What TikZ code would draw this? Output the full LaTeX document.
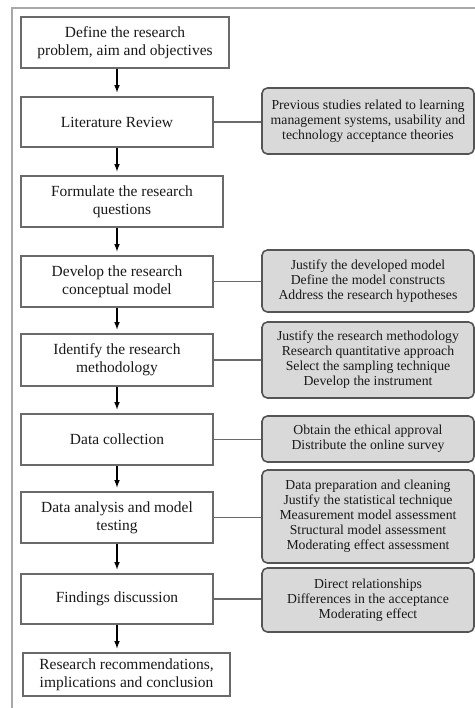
\documentclass[tikz,border=0pt]{standalone}
\usepackage{fontspec}
\setmainfont{Liberation Serif}
\definecolor{boxline}{HTML}{6A6A6A}
\definecolor{notefill}{HTML}{D9D9D9}
\definecolor{frameline}{HTML}{A8A8A8}
\begin{document}
\begin{tikzpicture}[x=0.75pt,y=-0.75pt]
        \tikzstyle{block} = [rectangle, text=black!90, align=center, draw=boxline, line width=.9pt, fill=white, font=\fontsize{11.6}{13.6}\selectfont, minimum width=144pt, minimum height=38.25pt, inner sep=1pt]
        \tikzstyle{note} = [rectangle, rounded corners=4pt, text=black!90, align=center, draw=boxline!80!black, line width=1.2pt, fill=notefill, font=\fontsize{10.3}{11.3}\selectfont, minimum width=159pt, inner sep=1pt]
        \tikzstyle{line} = [-latex,draw=black,line width=.9pt,shorten >=3pt]
        \tikzstyle{link} = [draw=boxline,line width=.9pt]
        \useasboundingbox (0,0) rectangle (475,708);
        % frame
        \draw[frameline,line width=.9pt] (12,708) -- (12,8) -- (475,8);
        % main steps
        \node[block, minimum width=156pt] (define) at (125,42.5) {Define the research\\problem, aim and objectives};
        \node[block, minimum height=37.5pt] (review) at (117,122) {Literature Review};
        \node[block, minimum width=151.5pt] (questions) at (122,201.5) {Formulate the research\\questions};
        \node[block] (model) at (117,281.5) {Develop the research\\conceptual model};
        \node[block, minimum height=39pt] (method) at (117,360) {Identify the research\\methodology};
        \node[block] (collect) at (117,439.5) {Data collection};
        \node[block] (analysis) at (117,517.5) {Data analysis and model\\testing};
        \node[block, minimum height=37.5pt] (findings) at (117,599) {Findings discussion};
        \node[block, minimum width=155.25pt, minimum height=32.25pt] (conclude) at (126.5,674.5) {Research recommendations,\\implications and conclusion};
        % details
        \node[note, minimum height=49.5pt] (reviewnote) at (368,121) {Previous studies related to learning\\management systems, usability and\\technology acceptance theories};
        \node[note, minimum height=46.5pt] (modelnote) at (368,281) {Justify the developed model\\Define the model constructs\\Address the research hypotheses};
        \node[note, minimum height=57pt] (methodnote) at (368,360) {Justify the research methodology\\Research quantitative approach\\Select the sampling technique\\Develop the instrument};
        \node[note, minimum height=34.5pt] (collectnote) at (368,439) {Obtain the ethical approval\\Distribute the online survey};
        \node[note, minimum height=69.75pt] (analysisnote) at (368,516.5) {Data preparation and cleaning\\Justify the statistical technique\\Measurement model assessment\\Structural model assessment\\Moderating effect assessment};
        \node[note, minimum height=48pt] (findingsnote) at (368,600) {Direct relationships\\Differences in the acceptance\\Moderating effect};
        % arrows
        \draw[line] (define.south -| review) -- (review);
        \draw[line] (review) -- (questions.north -| review);
        \draw[line] (questions.south -| review) -- (model);
        \draw[line] (model) -- (method);
        \draw[line] (method) -- (collect);
        \draw[line] (collect) -- (analysis);
        \draw[line] (analysis) -- (findings);
        \draw[line] (findings) -- (conclude.north -| findings);
        % links to details
        \draw[link] (review) -- (reviewnote.west |- review);
        \draw[link] (model) -- (modelnote.west |- model);
        \draw[link] (method) -- (methodnote.west |- method);
        \draw[link] (collect) -- (collectnote.west |- collect);
        \draw[link] (analysis) -- (analysisnote.west |- analysis);
        \draw[link] (findings) -- (findingsnote.west |- findings);
    \end{tikzpicture}
\end{document}
